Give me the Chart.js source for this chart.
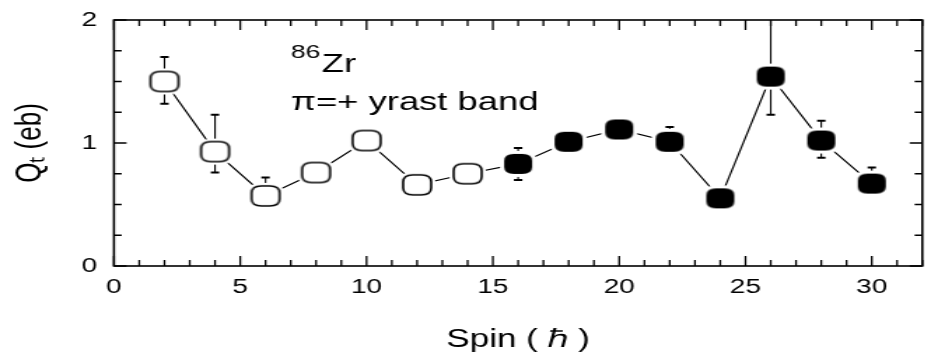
<!DOCTYPE html>
<html>
<head>
<meta charset="utf-8">
<script src="https://cdn.jsdelivr.net/npm/chart.js@4.4.0/dist/chart.umd.min.js"></script>
<style>
  html, body { margin: 0; padding: 0; background: #fff; overflow: hidden; }
  #wrap { width: 927px; height: 358px; overflow: hidden; }
  /* the original figure is stretched sideways, so is this one */
  #box { width: 670px; height: 358px; transform: scaleX(1.4); transform-origin: 0 0; }
</style>
</head>
<body>
<div id="wrap"><div id="box"><canvas id="qtChart" width="670" height="358"></canvas></div></div>
<script>
// ======= DONNEES =======
const spins   = [2, 4, 6, 8, 10, 12, 14, 16, 18, 20, 22, 24, 26, 28, 30];
const qt      = [1.50, 0.93, 0.57, 0.76, 1.02, 0.66, 0.75, 0.83, 1.01, 1.11, 1.01, 0.55, 1.54, 1.02, 0.67];
const errHigh = [1.70, 1.23, 0.72, null, null, null, null, 0.96, null, null, 1.13, null, 2.10, 1.18, 0.80];
const errLow  = [1.32, 0.76, 0.52, null, null, null, null, 0.70, null, null, 0.93, null, 1.23, 0.88, 0.60];
const filled  = [false, false, false, false, false, false, false, true, true, true, true, true, true, true, true];
const xTicks  = [0, 5, 10, 15, 20, 25, 30];
const yTicks  = [0, 1, 2];
const xMinorStep = 1;
const yMinorStep = 0.25;

const FONT = "'Liberation Sans', Arial, sans-serif";

// ======= MARQUEURS (rond-carre, ouvert ou plein) =======
function roundedPath(g, x, y, w, h, r) {
  g.beginPath();
  g.moveTo(x + r, y);
  g.lineTo(x + w - r, y);
  g.quadraticCurveTo(x + w, y, x + w, y + r);
  g.lineTo(x + w, y + h - r);
  g.quadraticCurveTo(x + w, y + h, x + w - r, y + h);
  g.lineTo(x + r, y + h);
  g.quadraticCurveTo(x, y + h, x, y + h - r);
  g.lineTo(x, y + r);
  g.quadraticCurveTo(x, y, x + r, y);
  g.closePath();
}

function makeMarker(isFilled) {
  const w = 20, h = 20, halo = 3;
  const c = document.createElement("canvas");
  c.width = w + 2 * halo + 2;
  c.height = h + 2 * halo + 2;
  const g = c.getContext("2d");
  const x0 = (c.width - w) / 2, y0 = (c.height - h) / 2;
  g.fillStyle = "#fff";
  roundedPath(g, x0 - halo, y0 - halo, w + 2 * halo, h + 2 * halo, 7 + halo);
  g.fill();
  roundedPath(g, x0, y0, w, h, 7);
  if (isFilled) {
    g.fillStyle = "#000";
    g.fill();
  } else {
    g.fillStyle = "#fff";
    g.fill();
    g.lineWidth = 1.6;
    g.strokeStyle = "#000";
    g.stroke();
  }
  return c;
}
const openMarker = makeMarker(false);
const fullMarker = makeMarker(true);

// ======= BARRES D'ERREUR =======
const errorBars = {
  id: "errorBars",
  beforeDatasetsDraw(chart) {
    const { ctx, chartArea: a, scales: { x, y } } = chart;
    ctx.save();
    ctx.beginPath();
    ctx.rect(a.left, a.top, a.right - a.left, a.bottom - a.top);
    ctx.clip();
    ctx.strokeStyle = "#000";
    spins.forEach((s, i) => {
      const px = x.getPixelForValue(s);
      const py = y.getPixelForValue(qt[i]);
      [errHigh[i], errLow[i]].forEach(e => {
        if (e === null) return;
        const pe = y.getPixelForValue(e);
        ctx.lineWidth = 1.1;
        ctx.beginPath();
        ctx.moveTo(px, py);
        ctx.lineTo(px, pe);
        ctx.stroke();
        ctx.lineWidth = 2;
        ctx.beginPath();
        ctx.moveTo(px - 3, pe);
        ctx.lineTo(px + 3, pe);
        ctx.stroke();
      });
    });
    ctx.restore();
  }
};

// ======= CADRE + GRADUATIONS INTERIEURES + TEXTES =======
const frameTicks = {
  id: "frameTicks",
  afterDraw(chart) {
    const { ctx, chartArea: a, scales: { x, y } } = chart;
    ctx.save();
    ctx.strokeStyle = "#000";
    ctx.lineWidth = 1.3;
    ctx.beginPath();
    for (let v = x.min; v <= x.max + 1e-9; v += xMinorStep) {
      const px = x.getPixelForValue(v);
      const len = xTicks.includes(v) ? 10 : 6;
      ctx.moveTo(px, a.bottom); ctx.lineTo(px, a.bottom - len);
      ctx.moveTo(px, a.top); ctx.lineTo(px, a.top + len);
    }
    for (let v = y.min; v <= y.max + 1e-9; v += yMinorStep) {
      const py = y.getPixelForValue(v);
      const len = yTicks.includes(v) ? 9 : 5.5;
      ctx.moveTo(a.left, py); ctx.lineTo(a.left + len, py);
      ctx.moveTo(a.right, py); ctx.lineTo(a.right - len, py);
    }
    ctx.stroke();
    ctx.lineWidth = 1.6;
    ctx.strokeRect(a.left, a.top, a.right - a.left, a.bottom - a.top);

    // legende dans le cadre
    ctx.fillStyle = "#000";
    ctx.textAlign = "left";
    ctx.textBaseline = "alphabetic";
    const tx = x.getPixelForValue(7.0);
    ctx.font = "19px " + FONT;
    ctx.fillText("86", tx, y.getPixelForValue(1.69));
    const w86 = ctx.measureText("86").width;
    ctx.font = "26px " + FONT;
    ctx.fillText("Zr", tx + w86 + 1, y.getPixelForValue(1.577));
    ctx.fillText("\u03C0=+ yrast band", tx, y.getPixelForValue(1.268));
    ctx.restore();
  }
};

// ======= GRAPHIQUE =======
new Chart(document.getElementById("qtChart"), {
  type: "line",
  data: {
    datasets: [{
      label: "Qt",
      data: spins.map((s, i) => ({ x: s, y: qt[i] })),
      borderColor: "#000",
      borderWidth: 1.2,
      tension: 0,
      pointRadius: 10,
      pointStyle: ctx => (filled[ctx.dataIndex] ? fullMarker : openMarker)
    }]
  },
  options: {
    responsive: false,
    maintainAspectRatio: false,
    animation: false,
    devicePixelRatio: 1,
    layout: { padding: { left: 0, right: 0, top: 20, bottom: 0 } },
    plugins: { legend: { display: false }, tooltip: { enabled: false } },
    scales: {
      x: {
        type: "linear",
        min: 0,
        max: 32,
        afterFit: s => { s.height = 92; s.paddingLeft = 0; s.paddingRight = 0; },
        afterBuildTicks: s => { s.ticks = xTicks.map(v => ({ value: v })); },
        grid: { display: false, drawTicks: false },
        border: { display: false },
        ticks: { color: "#000", font: { family: FONT, size: 20 }, padding: 9, maxRotation: 0, autoSkip: false },
        title: { display: true, text: "Spin ( \u210F )", color: "#000", font: { family: FONT, size: 25 }, padding: { top: 0, bottom: 3 } }
      },
      y: {
        min: 0,
        max: 2,
        afterFit: s => { s.width = 81.4; s.paddingTop = 0; s.paddingBottom = 0; },
        afterBuildTicks: s => { s.ticks = yTicks.map(v => ({ value: v })); },
        grid: { display: false, drawTicks: false },
        border: { display: false },
        ticks: { color: "#000", font: { family: FONT, size: 20 }, padding: 12 },
        title: { display: true, text: "Q\u209C (eb)", color: "#000", font: { family: FONT, size: 26 }, padding: { top: 6, bottom: 0 } }
      }
    }
  },
  plugins: [errorBars, frameTicks]
});
</script>
</body>
</html>
